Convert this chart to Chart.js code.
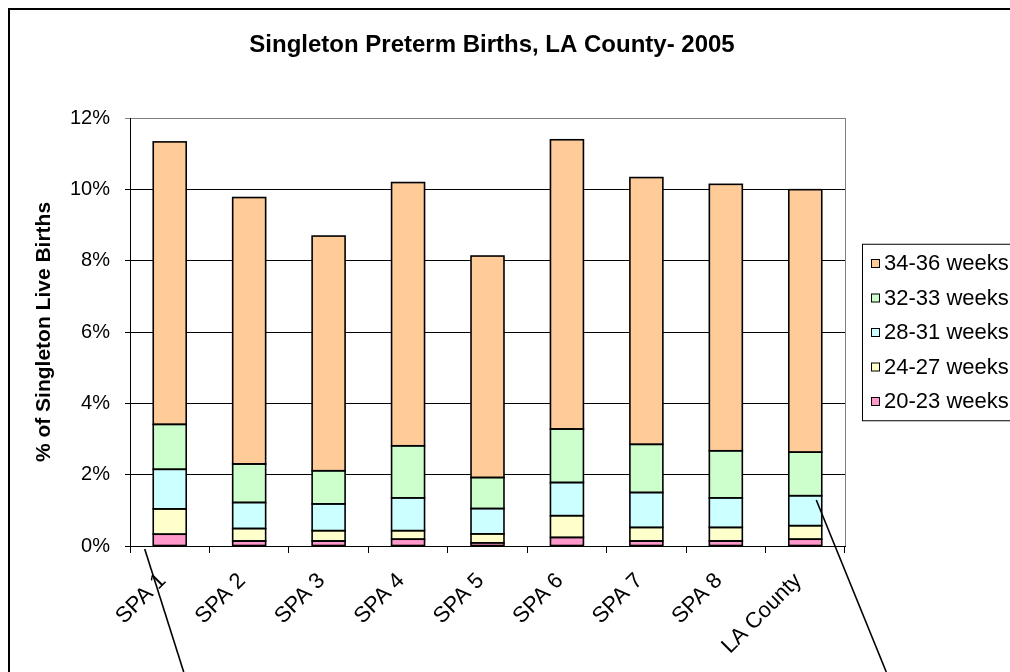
<!DOCTYPE html>
<html>
<head>
<meta charset="utf-8">
<script src="https://cdn.jsdelivr.net/npm/chart.js@4/dist/chart.umd.min.js"></script>
<style>
  html, body { margin: 0; padding: 0; background: #fff; }
  #wrap { width: 1010px; height: 672px; position: relative; }
</style>
</head>
<body>
<div id="wrap"><canvas id="pretermChart"></canvas></div>
<script>
// datos (% de nacimientos vivos simples)
const categorias = ['SPA 1', 'SPA 2', 'SPA 3', 'SPA 4', 'SPA 5', 'SPA 6', 'SPA 7', 'SPA 8', 'LA County'];
const semanas20a23 = [0.33, 0.14, 0.14, 0.19, 0.09, 0.24, 0.14, 0.14, 0.19];
const semanas24a27 = [0.71, 0.35, 0.29, 0.24, 0.25, 0.61, 0.38, 0.38, 0.38];
const semanas28a31 = [1.11, 0.73, 0.75, 0.92, 0.71, 0.93, 0.98, 0.83, 0.84];
const semanas32a33 = [1.26, 1.08, 0.93, 1.46, 0.87, 1.50, 1.35, 1.32, 1.22];
const semanas34a36 = [7.92, 7.47, 6.58, 7.38, 6.21, 8.11, 7.48, 7.47, 7.36];
const ticksY = [0, 2, 4, 6, 8, 10, 12];

const FUENTE = "'Liberation Sans', Arial, sans-serif";

const series = [
    { label: '20-23 weeks', data: semanas20a23, color: '#FF99CC' },
    { label: '24-27 weeks', data: semanas24a27, color: '#FFFFCC' },
    { label: '28-31 weeks', data: semanas28a31, color: '#CCFFFF' },
    { label: '32-33 weeks', data: semanas32a33, color: '#CCFFCC' },
    { label: '34-36 weeks', data: semanas34a36, color: '#FFCC99' }
];

// marco, titulos, leyenda, bordes de barras y lineas de llamada
const decoracion = {
    id: 'decoracion',
    beforeDraw(chart) {
        const ctx = chart.ctx;
        const a = chart.chartArea;
        ctx.save();
        ctx.fillStyle = '#fff';
        ctx.fillRect(0, 0, chart.width, chart.height);
        ctx.strokeStyle = '#000';
        ctx.lineWidth = 2;
        ctx.strokeRect(9, 9, chart.width + 20, chart.height + 20);
        ctx.strokeStyle = '#808080';
        ctx.lineWidth = 1;
        ctx.strokeRect(a.left + 0.5, a.top + 0.5, a.right - a.left, a.bottom - a.top);
        ctx.restore();
    },
    afterDatasetsDraw(chart) {
        // contorno negro de cada segmento, como en Excel
        const ctx = chart.ctx;
        ctx.save();
        ctx.strokeStyle = '#000';
        ctx.lineWidth = 1.6;
        chart.data.datasets.forEach(function(ds, i) {
            chart.getDatasetMeta(i).data.forEach(function(bar) {
                const p = bar.getProps(['x', 'y', 'base', 'width'], true);
                const top = Math.min(p.y, p.base);
                ctx.strokeRect(p.x - p.width / 2, top, p.width, Math.abs(p.base - p.y));
            });
        });
        ctx.restore();
    },
    afterDraw(chart) {
        const ctx = chart.ctx;
        const a = chart.chartArea;
        const x = chart.scales.x;
        const y = chart.scales.y;
        ctx.save();

        // titulo
        ctx.fillStyle = '#000';
        ctx.font = 'bold 24px ' + FUENTE;
        ctx.textAlign = 'center';
        ctx.textBaseline = 'alphabetic';
        ctx.fillText('Singleton Preterm Births, LA County- 2005', 492, 52);

        // titulo eje Y
        ctx.save();
        ctx.translate(44, (a.top + a.bottom) / 2);
        ctx.rotate(-Math.PI / 2);
        ctx.font = 'bold 21px ' + FUENTE;
        ctx.textBaseline = 'middle';
        ctx.fillText('% of Singleton Live Births', 0, 0);
        ctx.restore();

        // leyenda (orden inverso, como en el original)
        const lx = a.right + 17;
        const paso = 34.5;
        const cy = (a.top + a.bottom) / 2;
        const ly = cy - paso * 2.5 - 2;
        ctx.strokeStyle = '#000';
        ctx.lineWidth = 1;
        ctx.strokeRect(lx + 0.5, ly + 0.5, 200, paso * 5 + 4);
        ctx.font = '22px ' + FUENTE;
        ctx.textAlign = 'left';
        ctx.textBaseline = 'middle';
        series.slice().reverse().forEach(function(s, i) {
            const fy = ly + 2 + paso * (i + 0.5);
            ctx.fillStyle = s.color;
            ctx.fillRect(lx + 9, fy - 4, 9, 9);
            ctx.strokeRect(lx + 9.5, fy - 3.5, 8, 8);
            ctx.fillStyle = '#000';
            ctx.fillText(s.label, lx + 22, fy + 1);
        });

        // lineas de llamada hacia abajo
        ctx.strokeStyle = '#000';
        ctx.lineWidth = 1.6;
        const x1 = x.getPixelForValue(0) - 25, y1 = y.getPixelForValue(0) + 3;
        ctx.beginPath();
        ctx.moveTo(x1, y1);
        ctx.lineTo(x1 + (chart.height - y1) * 0.317, chart.height);
        ctx.stroke();
        const x2 = x.getPixelForValue(8) + 11, y2 = y.getPixelForValue(1.29);
        ctx.beginPath();
        ctx.moveTo(x2, y2);
        ctx.lineTo(x2 + (chart.height - y2) * 0.407, chart.height);
        ctx.stroke();

        ctx.restore();
    }
};

document.addEventListener('DOMContentLoaded', function() {
    const ctxPreterm = document.getElementById('pretermChart');
    new Chart(ctxPreterm, {
        type: 'bar',
        data: {
            labels: categorias,
            datasets: series.map(function(s) {
                return {
                    label: s.label,
                    data: s.data,
                    backgroundColor: s.color,
                    borderWidth: 0,
                    inflateAmount: 0,
                    barPercentage: 0.415,
                    categoryPercentage: 1
                };
            })
        },
        options: {
            responsive: true,
            maintainAspectRatio: false,
            animation: false,
            layout: { padding: { left: 8, top: 118, right: 165, bottom: 0 } },
            plugins: {
                legend: { display: false },
                title: { display: false },
                tooltip: { enabled: false }
            },
            scales: {
                x: {
                    stacked: true,
                    grid: { offset: true, drawOnChartArea: false, color: '#000', tickLength: 7 },
                    border: { color: '#000', width: 1 },
                    ticks: {
                        color: '#000',
                        font: { family: FUENTE, size: 22 },
                        minRotation: 45,
                        maxRotation: 45,
                        autoSkip: false,
                        padding: 15,
                        labelOffset: -7
                    },
                    afterFit: function(s) { s.height = 126; }
                },
                y: {
                    stacked: true,
                    min: 0,
                    max: 12,
                    afterBuildTicks: function(s) { s.ticks = ticksY.map(function(v) { return { value: v }; }); },
                    grid: {
                        color: function(c) { return c.tick && c.tick.value === 12 ? '#808080' : '#000'; },
                        tickLength: 5
                    },
                    border: { color: '#000', width: 1 },
                    ticks: {
                        color: '#000',
                        font: { family: FUENTE, size: 20 },
                        padding: 15,
                        callback: function(v) { return v + '%'; }
                    },
                    afterFit: function(s) { s.width = 122; }
                }
            }
        },
        plugins: [decoracion]
    });
});
</script>
</body>
</html>
